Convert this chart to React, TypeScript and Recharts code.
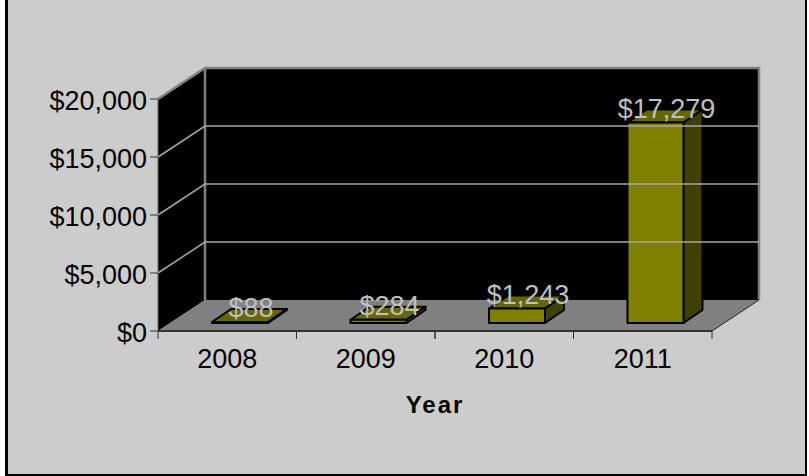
import { BarChart, Bar, XAxis, YAxis, ReferenceArea, ReferenceLine, LabelList, Label } from 'recharts';

const years = ['2008', '2009', '2010', '2011'];
const revenue = [88, 284, 1243, 17279];
const yTicks = [0, 5000, 10000, 15000, 20000];

const data = years.map((year, i) => ({ year, revenue: revenue[i] }));

const FONT = '"Liberation Sans", Arial, sans-serif';
const PLOT_W = 554;
const BAND = PLOT_W / years.length;
// 3d offset of the back wall from the front of the plot
const DX = 47;
const DY = -31;
// bars stand part way into the floor
const BAR_DX = 19;
const BAR_DY = -13;
const BAR_SHIFT_X = 13;
const BAR_SHIFT_Y = -8;

const money = (v: number) => '$' + v.toLocaleString('en-US');

function Walls(props: any) {
  const { x, y, width, height } = props;
  const b = y + height;
  const r = x + width;
  return (
    <g>
      <polygon points={`${x},${y} ${x + DX},${y + DY} ${x + DX},${b + DY} ${x},${b}`} fill="#000" />
      <rect x={x + DX} y={y + DY} width={width} height={height} fill="#000" />
      <polygon points={`${x},${b} ${x + DX},${b + DY} ${r + DX},${b + DY} ${r},${b}`} fill="#808080" />
      <polyline
        points={`${x},${y} ${x + DX},${y + DY} ${r + DX},${y + DY} ${r + DX},${b + DY}`}
        fill="none"
        stroke="#808080"
        strokeWidth={2.5}
      />
      <line x1={x + DX} y1={y + DY} x2={x + DX} y2={b + DY} stroke="#808080" strokeWidth={2.5} />
      <line x1={r} y1={b} x2={r + DX} y2={b + DY} stroke="#222" strokeWidth={1} />
    </g>
  );
}

function GridLine(props: any) {
  const { x1, x2, y1 } = props;
  const left = Math.min(x1, x2);
  const right = Math.max(x1, x2);
  return (
    <polyline
      points={`${left},${y1} ${left + DX},${y1 + DY} ${right + DX},${y1 + DY}`}
      fill="none"
      stroke="#a6a6a6"
      strokeWidth={1.5}
    />
  );
}

function Bar3d(props: any) {
  const { x, y, width, height } = props;
  const fx = x + BAR_SHIFT_X;
  const fy = y + BAR_SHIFT_Y;
  const r = fx + width;
  const b = fy + height;
  return (
    <g stroke="#000" strokeWidth={2} strokeLinejoin="round">
      <polygon
        points={`${fx},${fy} ${fx + BAR_DX},${fy + BAR_DY} ${r + BAR_DX},${fy + BAR_DY} ${r},${fy}`}
        fill="#666600"
      />
      <polygon
        points={`${r},${fy} ${r + BAR_DX},${fy + BAR_DY} ${r + BAR_DX},${b + BAR_DY} ${r},${b}`}
        fill="#404000"
      />
      <rect x={fx} y={fy} width={width} height={height} fill="#808000" />
    </g>
  );
}

function ValueLabel(props: any) {
  const { x, y, width, value } = props;
  return (
    <text
      x={x + width / 2 + 24}
      y={y - 13}
      textAnchor="middle"
      fontFamily={FONT}
      fontSize={27}
      fill="#c0c0c0"
    >
      {money(value)}
    </text>
  );
}

function YearTick(props: any) {
  const { x, y, payload } = props;
  const cx = payload.coordinate ?? x;
  return (
    <g>
      <line x1={cx - BAND / 2} y1={331} x2={cx - BAND / 2} y2={339} stroke="#333" />
      <line x1={cx + BAND / 2} y1={331} x2={cx + BAND / 2} y2={339} stroke="#333" />
      <text x={cx} y={368} textAnchor="middle" fontFamily={FONT} fontSize={27} fill="#000">
        {payload.value}
      </text>
    </g>
  );
}

export default function App() {
  return (
    <div
      style={{
        position: 'absolute',
        left: 0,
        top: 0,
        width: 809,
        height: 476,
        background: '#fff',
        overflow: 'hidden',
      }}
    >
      <div
        style={{
          position: 'absolute',
          left: 5,
          top: -4,
          width: 797,
          height: 478,
          background: '#cccccc',
          borderLeft: '3px solid #000',
          borderRight: '2px solid #000',
          borderBottom: '2px solid #000',
        }}
      />
      <div style={{ position: 'absolute', left: 0, top: 0 }}>
        <BarChart
          width={809}
          height={476}
          data={data}
          margin={{ top: 99, right: 97, bottom: 0, left: 0 }}
          barSize={56}
        >
          <ReferenceArea y1={0} y2={20000} shape={<Walls />} />
          {yTicks.slice(1, 4).map((t) => (
            <ReferenceLine key={t} y={t} shape={<GridLine />} />
          ))}
          <XAxis
            dataKey="year"
            height={145}
            axisLine={{ stroke: '#333', strokeWidth: 2 }}
            tickLine={false}
            tick={<YearTick />}
            interval={0}
          >
            <Label
              value="Year"
              position="insideTop"
              offset={65}
              style={{ fontFamily: FONT, fontSize: 24, fontWeight: 700, fill: '#000', letterSpacing: 2 }}
            />
          </XAxis>
          <YAxis
            width={158}
            domain={[0, 20000]}
            ticks={yTicks}
            tickFormatter={money}
            axisLine={{ stroke: '#666' }}
            tickLine={{ stroke: '#333' }}
            tickSize={8}
            tickMargin={3}
            tick={{ fill: '#000', fontSize: 27, fontFamily: FONT, dy: 1 }}
            interval={0}
          />
          <Bar dataKey="revenue" shape={<Bar3d />} isAnimationActive={false}>
            <LabelList dataKey="revenue" content={<ValueLabel />} />
          </Bar>
        </BarChart>
      </div>
    </div>
  );
}
